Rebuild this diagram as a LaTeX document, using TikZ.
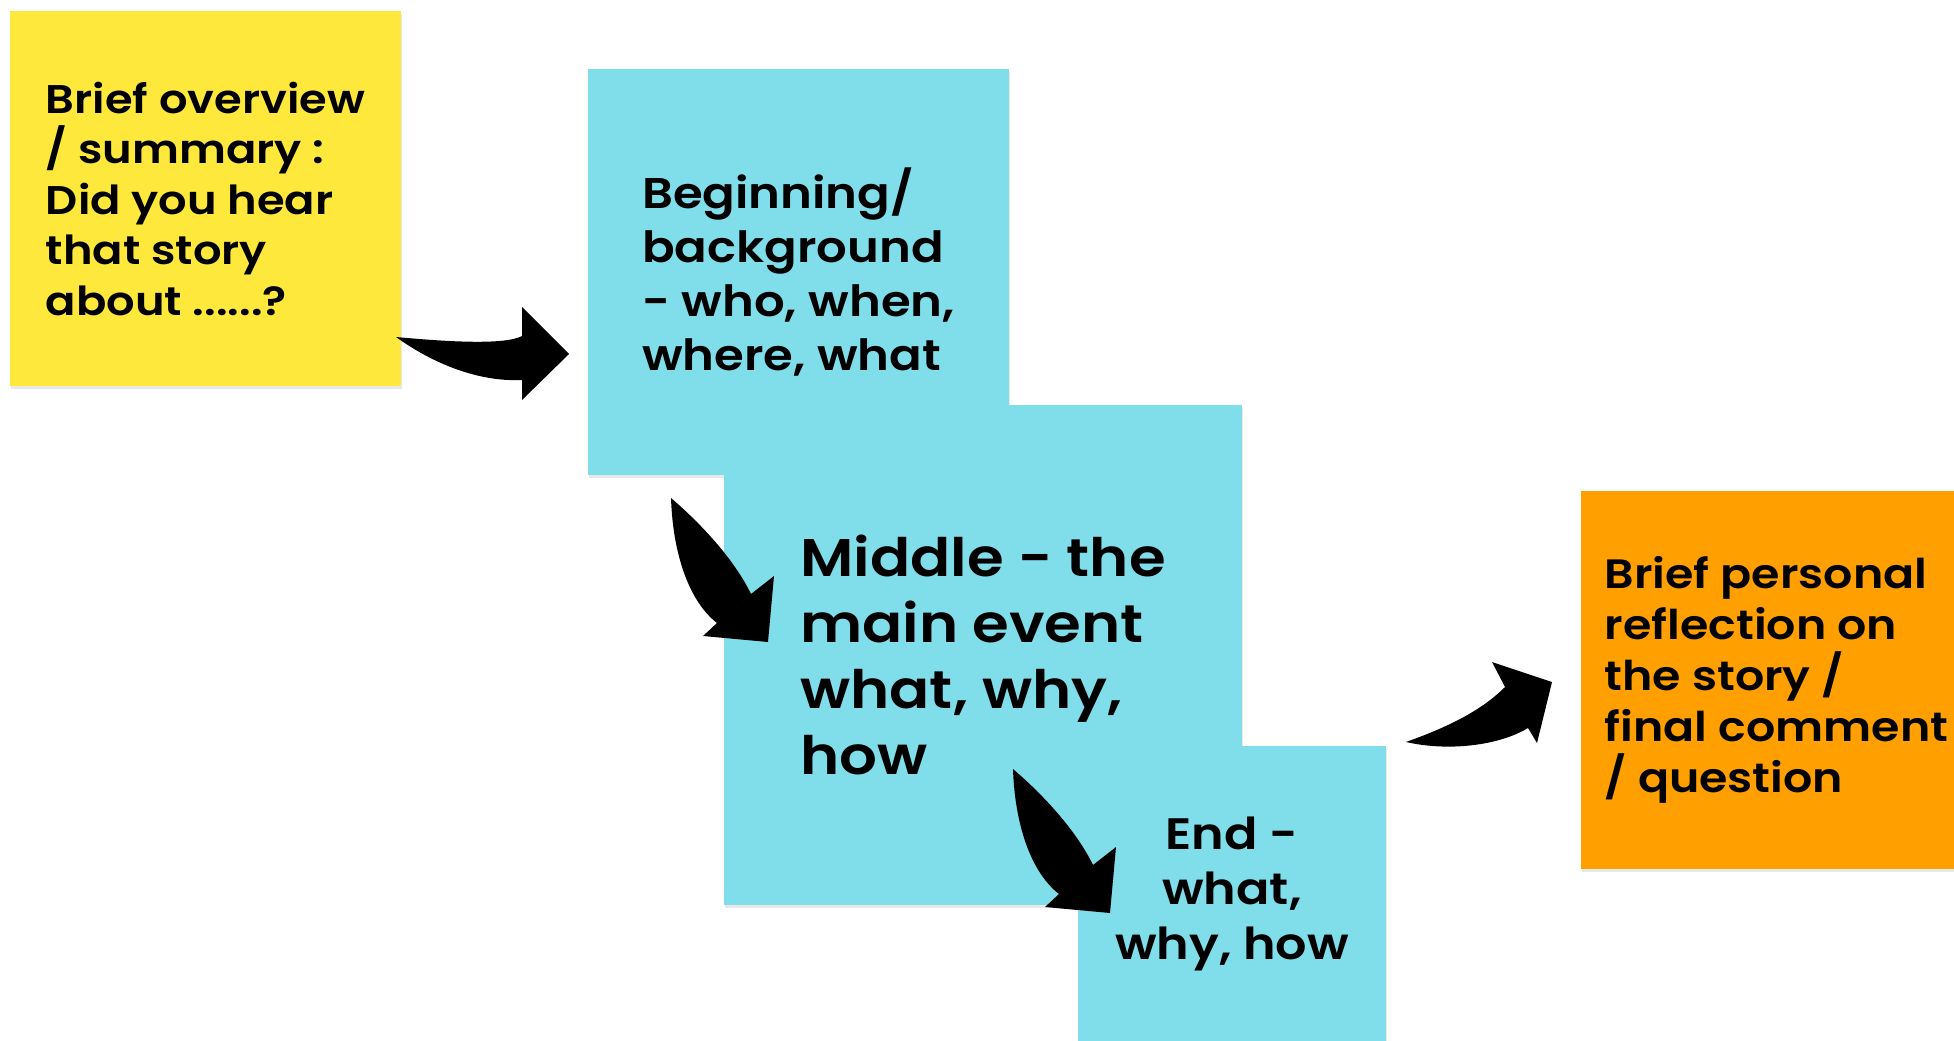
\documentclass[tikz,border=0pt]{standalone}
\usepackage{fontspec}
\setmainfont{Poppins}[BoldFont={Poppins SemiBold}, FakeStretch=1.12]
\usetikzlibrary{positioning,shadows}

\definecolor{noteyellow}{HTML}{FDE83B}
\definecolor{noteblue}{HTML}{80DEEA}
\definecolor{noteorange}{HTML}{FF9F00}

\tikzset{
  note/.style={rectangle, inner sep=0pt, align=left,
    drop shadow={shadow xshift=0.5pt, shadow yshift=-3pt, opacity=0.18}},
  downbend/.pic={
    \fill[black] (0,0) .. controls (2,60) and (20,105) .. (46,125) -- (32,138)
      -- (97,144) -- (103,78) -- (80,96) .. controls (65,65) and (35,30) .. (0,0);
  }
}

\begin{document}
\begin{tikzpicture}[x=1pt,y=-1pt]

    \clip (0,0) rectangle (1954,1041);
    \fill[white] (0,0) rectangle (1954,1041);

    \node[note, fill=noteyellow, minimum width=391pt, minimum height=375pt,
      font=\bfseries\fontsize{40}{50.5}\selectfont] (overview) at (205.5,198.5)
      {Brief overview\\/ summary :\\Did you hear\\that story\\about ......?};
    \node[note, fill=noteblue, minimum width=421pt, minimum height=406pt,
      font=\bfseries\fontsize{43}{54}\selectfont] (begin) at (798.5,272)
      {Beginning/\\background\\- who, when,\\where, what};
    \node[note, fill=noteblue, minimum width=518pt, minimum height=500pt,
      font=\bfseries\fontsize{53}{66}\selectfont] (middle) at (983,655)
      {Middle - the\\main event\\what, why,\\how};
    \node[note, fill=noteblue, minimum width=308pt, minimum height=296pt, align=center,
      font=\bfseries\fontsize{44}{55}\selectfont] (finish) at (1232,894)
      {End -\\what,\\why, how};
    \node[note, fill=noteorange, minimum width=391pt, minimum height=378pt,
      font=\bfseries\fontsize{41}{51}\selectfont] (reflect) at (1776.5,680)
      {Brief personal\\reflection on\\the story /\\final comment\\/ question};

    % tails of the bent arrows
    \coordinate (a1) at (396,337);
    \coordinate (a2) at (671,498);
    \coordinate (a3) at (1013,769);
    \coordinate (a4) at (1406,742);

    \fill[black] (a1) .. controls (450,342) and (505,345) .. (522,336) -- (522,307)
      -- (569,354) -- (522,400) -- (522,380) .. controls (480,382) and (435,365) .. (a1);
    \pic at (a2) {downbend};
    \pic at (a3) {downbend};
    \fill[black] (a4) .. controls (1450,752) and (1500,745) .. (1528,728) -- (1537,743)
      -- (1552,682) -- (1492,662) -- (1505,687) .. controls (1480,712) and (1445,728) .. (a4);

\end{tikzpicture}
\end{document}
